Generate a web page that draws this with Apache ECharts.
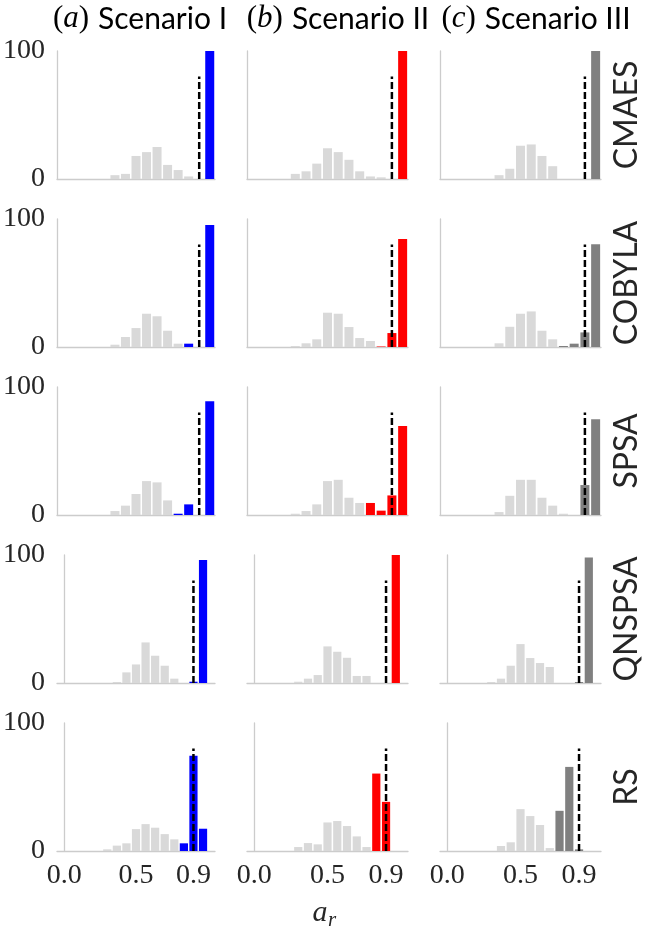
<!DOCTYPE html>
<html>
<head>
<meta charset="utf-8">
<title>Approximation ratio histograms</title>
<script src="https://cdn.jsdelivr.net/npm/echarts@6/dist/echarts.min.js"></script>
<style>
  html, body { margin: 0; padding: 0; background: #fff; }
  #chart { width: 645px; height: 928px; }
</style>
</head>
<body>
<div id="chart"></div>
<script type="text/javascript">
var algorithms = ['CMAES', 'COBYLA', 'SPSA', 'QNSPSA', 'RS'];
var scenarioTitles = [['a', 'Scenario I'], ['b', 'Scenario II'], ['c', 'Scenario III']];
// centres of the 15 bins on [0, 1]
var binCenters = [0.0333, 0.1, 0.1667, 0.2333, 0.3, 0.3667, 0.4333, 0.5, 0.5667, 0.6333, 0.7, 0.7667, 0.8333, 0.9, 0.9667];
var xTicks = [0, 0.5, 0.9];
var threshold = 0.9;
var thresholdTop = 80;
var runColors = ['#0000ff', '#ff0000', '#808080'];
var baseColor = '#d9d9d9';

// light gray histograms, one list of 15 bins per scenario
var cmaesBase = [
    [0, 0, 0, 0, 0, 3, 4, 18, 21, 25, 11, 7, 2, 0, 0],
    [0, 0, 0, 0, 4, 6, 12, 24, 21, 15, 6, 2, 1.3, 0, 0],
    [0, 0, 0, 0, 0, 3, 8, 26, 27, 18, 10, 0, 0, 0, 0]
];
var cmaesRun = [
    [0, 0, 0, 0, 0, 0, 0, 0, 0, 0, 0, 0, 0, 0, 100],
    [0, 0, 0, 0, 0, 0, 0, 0, 0, 0, 0, 0, 0, 0, 100],
    [0, 0, 0, 0, 0, 0, 0, 0, 0, 0, 0, 0, 0, 0, 100]
];
var cobylaBase = [
    [0, 0, 0, 0, 0, 1.8, 7.8, 14.8, 26, 24, 12.7, 2.6, 0, 0, 0],
    [0, 0, 0, 0, 0.8, 2.9, 6, 26.8, 26, 15.6, 7, 4.7, 0, 0, 0],
    [0, 0, 0, 0, 0, 2.9, 15.8, 26, 27.8, 12.7, 6, 0, 0, 0, 0]
];
var cobylaRun = [
    [0, 0, 0, 0, 0, 0, 0, 0, 0, 0, 0, 0, 2.6, 0, 95.3],
    [0, 0, 0, 0, 0, 0, 0, 0, 0, 0, 0, 0, 0.4, 10.9, 84.4],
    [0, 0, 0, 0, 0, 0, 0, 0, 0, 0, 0, 0.8, 2.6, 11.4, 80.3]
];
var spsaBase = [
    [0, 0, 0, 0, 0, 3.1, 7.3, 16.4, 26.5, 25.5, 11.4, 0, 0, 0, 0],
    [0, 0, 0, 0, 1, 3.1, 8.3, 26.5, 27.5, 13.5, 9.4, 0, 0, 0, 0],
    [0, 0, 0, 0, 0, 2.3, 15, 27.5, 27.5, 13.5, 7.3, 1, 0, 0, 0]
];
var spsaRun = [
    [0, 0, 0, 0, 0, 0, 0, 0, 0, 0, 0, 1, 8.3, 0, 88.8],
    [0, 0, 0, 0, 0, 0, 0, 0, 0, 0, 0, 9.4, 3.4, 15.3, 69.6],
    [0, 0, 0, 0, 0, 0, 0, 0, 0, 0, 0, 0, 0, 23.4, 74.8]
];
var qnspsaBase = [
    [0, 0, 0, 0, 0, 0.8, 8.3, 14.5, 31.7, 21.3, 13.5, 3.4, 0, 0, 0],
    [0, 0, 0, 0, 1, 3.4, 6.2, 28.6, 24.4, 19.7, 5.5, 5.5, 0, 0, 0],
    [0, 0, 0, 0, 0.8, 3.4, 13.5, 30.4, 19.5, 15.6, 12.5, 0, 0, 0, 0]
];
var qnspsaRun = [
    [0, 0, 0, 0, 0, 0, 0, 0, 0, 0, 0, 0, 0, 1, 96],
    [0, 0, 0, 0, 0, 0, 0, 0, 0, 0, 0, 0, 0, 0, 100],
    [0, 0, 0, 0, 0, 0, 0, 0, 0, 0, 0, 0, 0, 0.8, 98]
];
var rsBase = [
    [0, 0, 0, 0, 1.3, 4.2, 6, 17.1, 21, 18.2, 13.2, 9.1, 0, 0, 0],
    [0, 0, 0, 0, 3.1, 6.2, 5.2, 22.3, 23.4, 19.5, 11.4, 3.1, 0, 0, 0],
    [0, 0, 0, 0, 0, 3.9, 6.8, 32.7, 27.3, 20.3, 2.3, 0, 0, 0, 0]
];
var rsRun = [
    [0, 0, 0, 0, 0, 0, 0, 0, 0, 0, 0, 0, 6, 74.5, 17.4],
    [0, 0, 0, 0, 0, 0, 0, 0, 0, 0, 0, 0, 60.5, 38.4, 0],
    [0, 0, 0, 0, 0, 0, 0, 0, 0, 0, 0, 31.4, 65.7, 1.3, 0]
];

var baseData = [cmaesBase, cobylaBase, spsaBase, qnspsaBase, rsBase];
var runData = [cmaesRun, cobylaRun, spsaRun, qnspsaRun, rsRun];

// layout
var colLeft = [54, 247, 440];
var rowBottom = [179, 347, 515, 683, 851];
var panelW = 161, panelH = 128;
var rowXMin = [0, 0, 0, -0.05, -0.05];
var rowXMax = [1, 1, 1, 1.05, 1.05];
var rowBarW = [9, 9, 9, 8.2, 8.2];

var textColor = '#262626';
var spineColor = '#cccccc';
var serif = '"Liberation Serif", "DejaVu Serif", serif';
var sans = 'Lato, "Open Sans", sans-serif';

function toPairs(vals) {
    var out = [];
    vals.forEach(function (v, k) {
        if (v > 0) out.push([binCenters[k], v]);
    });
    return out;
}

var grids = [], xAxes = [], yAxes = [], series = [];
for (var r = 0; r < 5; r++) {
    for (var c = 0; c < 3; c++) {
        var i = grids.length;
        grids.push({left: colLeft[c], top: rowBottom[r] - panelH, width: panelW, height: panelH});
        xAxes.push({
            gridIndex: i, type: 'value', min: rowXMin[r], max: rowXMax[r],
            axisLine: {show: true, onZero: false, lineStyle: {color: spineColor, width: 1.3}},
            axisTick: {show: false},
            splitLine: {show: false},
            axisLabel: {
                show: r === 4, customValues: xTicks, margin: 11,
                formatter: function (v) { return v.toFixed(1); },
                fontFamily: serif, fontSize: 28, color: textColor
            }
        });
        yAxes.push({
            gridIndex: i, type: 'value', min: 0, max: 100, interval: 100,
            axisLine: {show: true, lineStyle: {color: spineColor, width: 1.3}},
            axisTick: {show: false},
            splitLine: {show: false},
            axisLabel: {show: c === 0, margin: 12, fontFamily: serif, fontSize: 28, color: textColor}
        });
        series.push({
            type: 'bar', xAxisIndex: i, yAxisIndex: i,
            data: toPairs(baseData[r][c]), barWidth: rowBarW[r], barGap: '-100%',
            itemStyle: {color: baseColor}
        });
        series.push({
            type: 'bar', xAxisIndex: i, yAxisIndex: i,
            data: toPairs(runData[r][c]), barWidth: rowBarW[r], barGap: '-100%',
            itemStyle: {color: runColors[c]}
        });
        // dashed reference line at a_r = 0.9
        series.push({
            type: 'line', xAxisIndex: i, yAxisIndex: i, z: 5,
            data: [[threshold, 0], [threshold, thresholdTop]],
            symbol: 'none',
            lineStyle: {color: '#000', width: 2.5, type: [7, 3]}
        });
    }
}

var graphics = [];
var titleX = [140, 338, 536];
scenarioTitles.forEach(function (t, c) {
    graphics.push({
        type: 'text', x: titleX[c], y: 19,
        style: {
            text: '{p|(}{i|' + t[0] + '}{p|)}{s|' + t[1] + '}',
            textAlign: 'center', textVerticalAlign: 'middle',
            align: 'center', verticalAlign: 'middle',
            rich: {
                p: {fontFamily: serif, fontSize: 31, color: textColor},
                i: {fontFamily: serif, fontStyle: 'italic', fontSize: 31, color: textColor},
                s: {fontFamily: sans, fontSize: 30, color: textColor, padding: [0, 0, 0, 9]}
            }
        }
    });
});
algorithms.forEach(function (name, r) {
    graphics.push({
        type: 'text', x: 627, y: rowBottom[r] - panelH / 2, rotation: Math.PI / 2,
        style: {
            text: name, font: '32px ' + sans, fill: textColor,
            textAlign: 'center', textVerticalAlign: 'middle',
            align: 'center', verticalAlign: 'middle'
        }
    });
});
// x label a_r
graphics.push({
    type: 'text', x: 320, y: 913,
    style: {text: 'a', font: 'italic 30px ' + serif, fill: textColor,
        textAlign: 'center', textVerticalAlign: 'middle', align: 'center', verticalAlign: 'middle'}
});
graphics.push({
    type: 'text', x: 332, y: 920,
    style: {text: 'r', font: 'italic 21px ' + serif, fill: textColor,
        textAlign: 'center', textVerticalAlign: 'middle', align: 'center', verticalAlign: 'middle'}
});

var chart = echarts.init(document.getElementById('chart'), null, {renderer: 'canvas'});
chart.setOption({
    animation: false,
    backgroundColor: '#ffffff',
    grid: grids,
    xAxis: xAxes,
    yAxis: yAxes,
    series: series,
    graphic: graphics
});
</script>
</body>
</html>
